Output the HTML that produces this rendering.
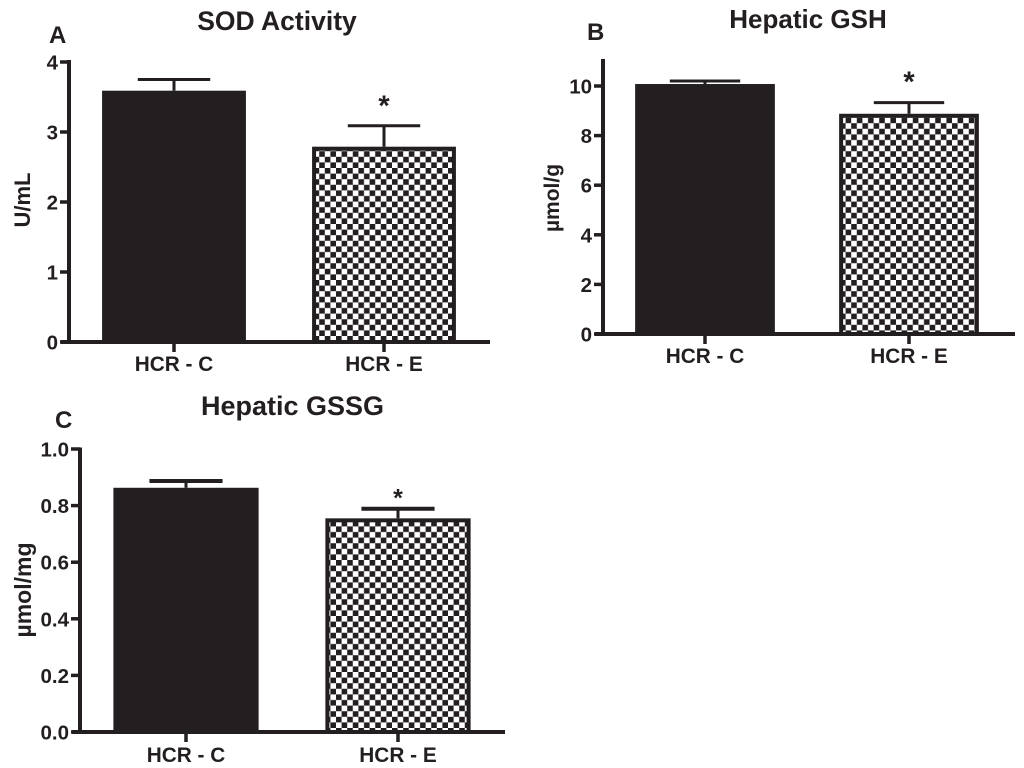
<!DOCTYPE html>
<html>
<head>
<meta charset="utf-8">
<title>Antioxidant panels</title>
<style>
html,body{margin:0;padding:0;background:#fff;width:1024px;height:768px;overflow:hidden}
svg{display:block}
text{font-family:"Liberation Sans",sans-serif;font-weight:bold;fill:#231f20}
</style>
</head>
<body>
<svg id="figure" xmlns="http://www.w3.org/2000/svg" width="1024" height="768" viewBox="0 0 1024 768">
  <defs>
    <pattern id="check" width="11.2" height="11.2" patternUnits="userSpaceOnUse">
      <rect width="11.2" height="11.2" fill="#fff"/>
      <rect x="0" y="0" width="5.6" height="5.6" fill="#231f20"/>
      <rect x="5.6" y="5.6" width="5.6" height="5.6" fill="#231f20"/>
    </pattern>
  </defs>
</svg>
<script>
const categories = ['HCR - C', 'HCR - E'];

const sodMeans = [3.59, 2.79];
const sodErrors = [0.16, 0.3];
const sodTicks = [0, 1, 2, 3, 4];
const sodTickLabels = ['0', '1', '2', '3', '4'];

const gshMeans = [10.08, 8.88];
const gshErrors = [0.12, 0.45];
const gshTicks = [0, 2, 4, 6, 8, 10];
const gshTickLabels = ['0', '2', '4', '6', '8', '10'];

const gssgMeans = [0.863, 0.755];
const gssgErrors = [0.024, 0.034];
const gssgTicks = [0, 0.2, 0.4, 0.6, 0.8, 1];
const gssgTickLabels = ['0.0', '0.2', '0.4', '0.6', '0.8', '1.0'];

const significant = [false, true];

const INK = '#231f20';
const svg = document.getElementById('figure');
const NS = 'http://www.w3.org/2000/svg';

function make(tag, attrs, text) {
  const el = document.createElementNS(NS, tag);
  for (const k in attrs) el.setAttribute(k, attrs[k]);
  if (text !== undefined) el.textContent = text;
  svg.appendChild(el);
  return el;
}

function line(x1, y1, x2, y2, w) {
  return make('line', {x1, y1, x2, y2, stroke: INK, 'stroke-width': w});
}

function drawPanel(p) {
  const yScale = v => p.y0 - (v / p.yMax) * (p.y0 - p.yTop);
  const xScale = i => p.left + p.step * (i + 0.5);
  const barW = p.step * 0.685;
  const capW = p.step * 0.345;

  p.means.forEach((m, i) => {
    const cx = xScale(i);
    const top = yScale(m);
    const errTop = yScale(m + p.errors[i]);

    const stem = line(cx, errTop, cx, top, 3);
    
    
    const cap = line(cx - capW / 2, errTop, cx + capW / 2, errTop, p.capWidth);
    
    

    const inset = i === 0 ? 0 : 2;
    const bar = make('rect', {
      x: cx - barW / 2 + inset,
      y: top + inset,
      width: barW - inset * 2,
      height: p.y0 - top - inset,
      fill: i === 0 ? INK : 'url(#check)',
      stroke: i === 0 ? 'none' : INK,
      'stroke-width': i === 0 ? 0 : 4
    });
    
    

    if (significant[i]) {
      const star = make('text', {
        x: cx, y: errTop + p.starOffset, 'text-anchor': 'middle',
        'font-size': p.starSize
      }, '*');
      
      
    }

    const tick = line(cx, p.y0, cx, p.y0 + 10, 3.5);
    
    

    const label = make('text', {
      x: cx, y: p.y0 + p.labelDrop, 'text-anchor': 'middle', 'font-size': 20.8
    }, categories[i]);
    
    
  });

  const yAxis = line(p.left, p.axisTop, p.left, p.y0 + 2, 4);
  
  
  const xAxis = line(p.left - 8, p.y0, p.xEnd, p.y0, 4);
  
  

  p.ticks.forEach((t, i) => {
    const y = yScale(t);
    const tk = line(p.left - 9, y, p.left, y, 3.5);
    
    
    const lb = make('text', {
      x: p.left - 11, y: y + 7.5, 'text-anchor': 'end', 'font-size': 20.5
    }, p.tickLabels[i]);
    
    
  });

  const title = make('text', {
    x: p.titleX, y: p.titleY, 'text-anchor': 'middle', 'font-size': p.titleSize
  }, p.title);
  
  

  const letter = make('text', {
    x: p.letterX, y: p.letterY, 'font-size': 24
  }, p.letter);
  
  

  const yt = make('text', {
    transform: 'translate(' + p.yTitleX + ',' + p.yTitleY + ') rotate(-90)',
    'text-anchor': 'middle', 'font-size': p.yTitleSize
  }, p.yTitle);
  
  
}

drawPanel({
  id: 'sod', title: 'SOD Activity', letter: 'A', yTitle: 'U/mL',
  means: sodMeans, errors: sodErrors, ticks: sodTicks, tickLabels: sodTickLabels,
  yMax: 4, y0: 342, yTop: 62, axisTop: 60, left: 69, step: 210, xEnd: 490,
  titleX: 277, titleY: 30, titleSize: 26.5, letterX: 49, letterY: 43,
  yTitleX: 30, yTitleY: 200, yTitleSize: 22, labelDrop: 29,
  starOffset: -10, starSize: 29, capWidth: 3
});
drawPanel({
  id: 'gsh', title: 'Hepatic GSH', letter: 'B', yTitle: 'µmol/g',
  means: gshMeans, errors: gshErrors, ticks: gshTicks, tickLabels: gshTickLabels,
  yMax: 10, y0: 334, yTop: 86, axisTop: 59, left: 603, step: 204, xEnd: 1015,
  titleX: 808, titleY: 28, titleSize: 26, letterX: 587, letterY: 40,
  yTitleX: 559, yTitleY: 198, yTitleSize: 21, labelDrop: 29,
  starOffset: -11, starSize: 29, capWidth: 3
});
drawPanel({
  id: 'gssg', title: 'Hepatic GSSG', letter: 'C', yTitle: 'µmol/mg',
  means: gssgMeans, errors: gssgErrors, ticks: gssgTicks, tickLabels: gssgTickLabels,
  yMax: 1, y0: 732, yTop: 449, axisTop: 447.5, left: 80, step: 212, xEnd: 505,
  titleX: 292.5, titleY: 415, titleSize: 27, letterX: 55, letterY: 428,
  yTitleX: 31, yTitleY: 590, yTitleSize: 23, labelDrop: 30,
  starOffset: -2, starSize: 25, capWidth: 4
});
</script>
</body>
</html>
